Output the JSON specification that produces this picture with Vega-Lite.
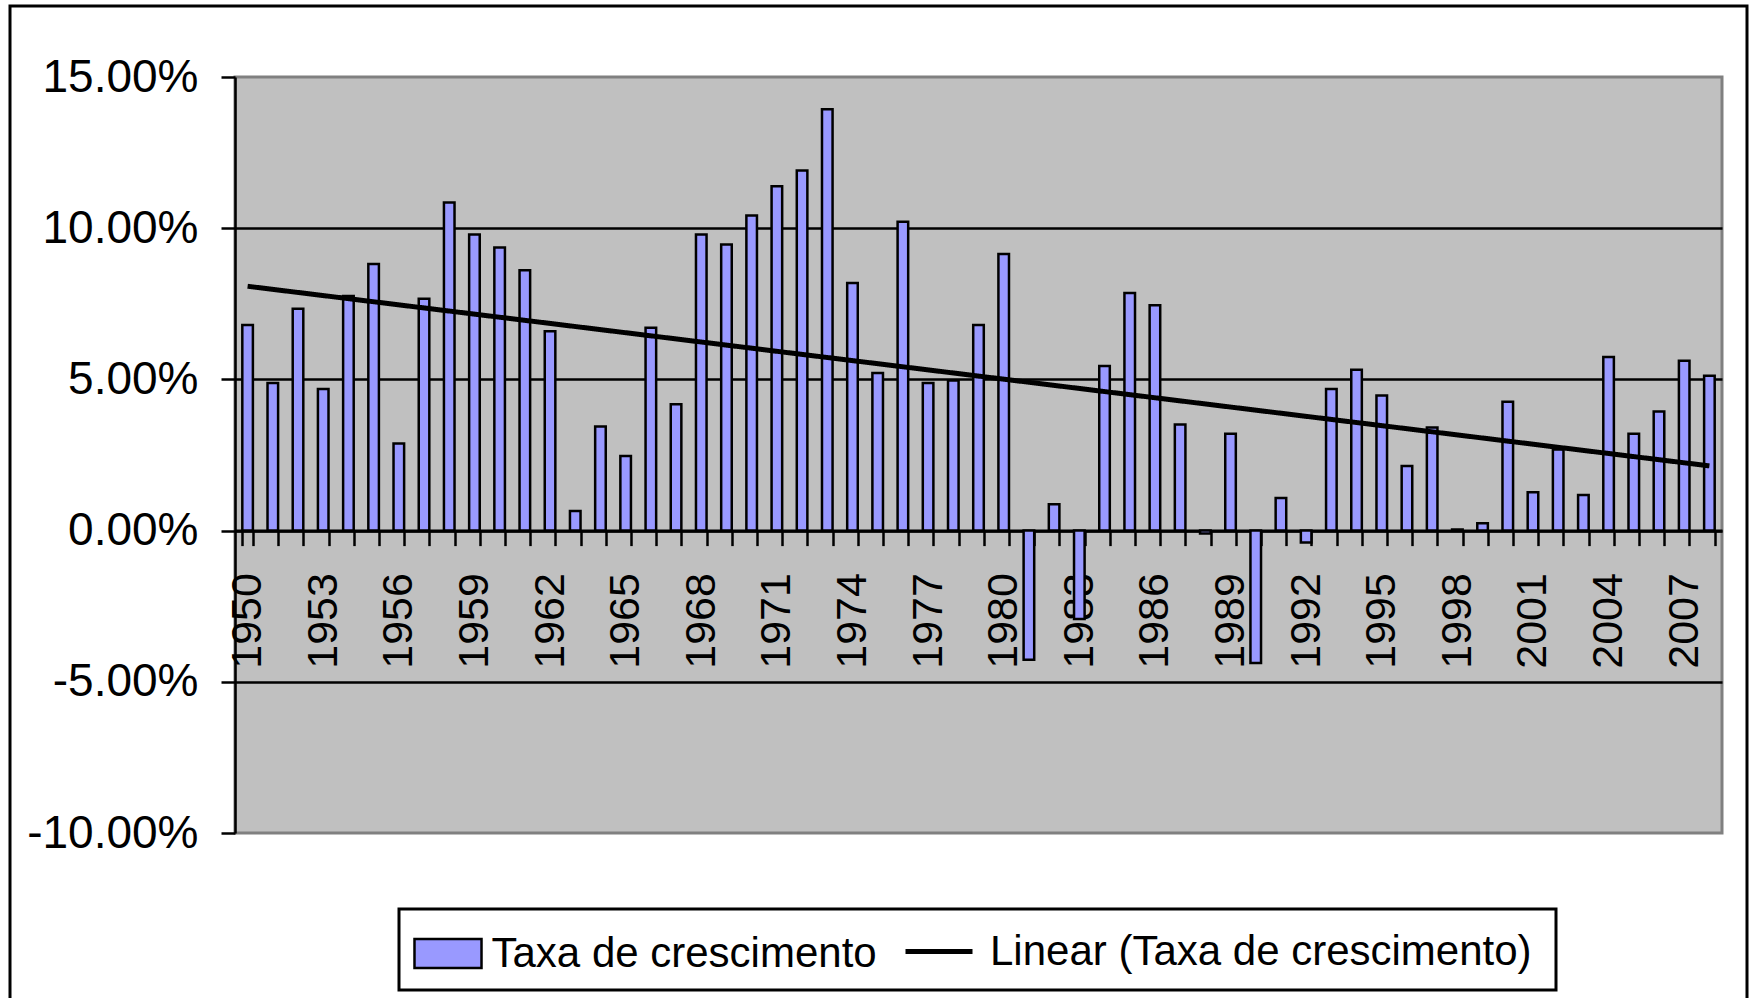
{
  "$schema": "https://vega.github.io/schema/vega-lite/v6.json",
  "width": 1487,
  "height": 756,
  "autosize": {"type": "none"},
  "padding": {"left": 235, "top": 77, "right": 30, "bottom": 165},
  "background": "white",
  "config": {
    "view": {"fill": "#C0C0C0", "stroke": "#808080", "strokeWidth": 3},
    "legend": {"strokeWidth": 3}
  },
  "datasets": {
    "growth": [
      {"year": 1950, "rate": 0.0680}, {"year": 1951, "rate": 0.0488}, {"year": 1952, "rate": 0.0734},
      {"year": 1953, "rate": 0.0468}, {"year": 1954, "rate": 0.0776}, {"year": 1955, "rate": 0.0882},
      {"year": 1956, "rate": 0.0288}, {"year": 1957, "rate": 0.0767}, {"year": 1958, "rate": 0.1085},
      {"year": 1959, "rate": 0.0979}, {"year": 1960, "rate": 0.0936}, {"year": 1961, "rate": 0.0861},
      {"year": 1962, "rate": 0.0659}, {"year": 1963, "rate": 0.0065}, {"year": 1964, "rate": 0.0344},
      {"year": 1965, "rate": 0.0247}, {"year": 1966, "rate": 0.0671}, {"year": 1967, "rate": 0.0418},
      {"year": 1968, "rate": 0.0979}, {"year": 1969, "rate": 0.0946}, {"year": 1970, "rate": 0.1042},
      {"year": 1971, "rate": 0.1139}, {"year": 1972, "rate": 0.1191}, {"year": 1973, "rate": 0.1393},
      {"year": 1974, "rate": 0.0819}, {"year": 1975, "rate": 0.0521}, {"year": 1976, "rate": 0.1021},
      {"year": 1977, "rate": 0.0488}, {"year": 1978, "rate": 0.0496}, {"year": 1979, "rate": 0.0680},
      {"year": 1980, "rate": 0.0915}, {"year": 1981, "rate": -0.0427}, {"year": 1982, "rate": 0.0087},
      {"year": 1983, "rate": -0.0292}, {"year": 1984, "rate": 0.0544}, {"year": 1985, "rate": 0.0786},
      {"year": 1986, "rate": 0.0745}, {"year": 1987, "rate": 0.0351}, {"year": 1988, "rate": -0.0010},
      {"year": 1989, "rate": 0.0320}, {"year": 1990, "rate": -0.0438}, {"year": 1991, "rate": 0.0108},
      {"year": 1992, "rate": -0.0039}, {"year": 1993, "rate": 0.0468}, {"year": 1994, "rate": 0.0532},
      {"year": 1995, "rate": 0.0447}, {"year": 1996, "rate": 0.0214}, {"year": 1997, "rate": 0.0341},
      {"year": 1998, "rate": 0.0004}, {"year": 1999, "rate": 0.0024}, {"year": 2000, "rate": 0.0426},
      {"year": 2001, "rate": 0.0127}, {"year": 2002, "rate": 0.0268}, {"year": 2003, "rate": 0.0118},
      {"year": 2004, "rate": 0.0574}, {"year": 2005, "rate": 0.0320}, {"year": 2006, "rate": 0.0394},
      {"year": 2007, "rate": 0.0562}, {"year": 2008, "rate": 0.0512}
    ],
    "trend": [
      {"year": 1950, "trend": 0.0808},
      {"year": 2008, "trend": 0.0214}
    ]
  },
  "resolve": {
    "scale": {"color": "independent", "strokeDash": "independent"},
    "legend": {"color": "independent", "strokeDash": "independent"}
  },
  "layer": [
    {
      "data": {"name": "growth"},
      "mark": {"type": "bar", "stroke": "black", "strokeWidth": 2.5},
      "encoding": {
        "x": {
          "field": "year",
          "type": "ordinal",
          "scale": {"paddingInner": 0.58, "paddingOuter": 0.29},
          "axis": {
            "orient": "bottom",
            "offset": -302.4,
            "tickBand": "extent",
            "labelExpr": "(datum.value - 1950) % 3 === 0 ? datum.label : ''",
            "labelAngle": 270,
            "labelFont": "Liberation Sans",
            "labelFontSize": 43,
            "labelColor": "black",
            "labelPadding": 27,
            "labelOverlap": false,
            "tickSize": 15,
            "tickWidth": 2.5,
            "tickColor": "black",
            "domainColor": "black",
            "domainWidth": 3,
            "grid": false,
            "title": null
          }
        },
        "y": {
          "field": "rate",
          "type": "quantitative",
          "scale": {"domain": [-0.1, 0.15], "nice": false},
          "axis": {
            "values": [-0.1, -0.05, 0, 0.05, 0.1, 0.15],
            "labelExpr": "(datum.value < 0 ? '-' : '') + format(abs(datum.value), '.2%')",
            "labelFont": "Liberation Sans",
            "labelFontSize": 46,
            "labelColor": "black",
            "labelPadding": 23,
            "tickSize": 14,
            "tickWidth": 2.5,
            "tickColor": "black",
            "domainColor": "black",
            "domainWidth": 2.5,
            "grid": true,
            "gridColor": {"condition": {"test": "datum.value > 0.14 || datum.value < -0.09", "value": "transparent"}, "value": "black"},
            "gridWidth": 2.5,
            "title": null
          }
        },
        "color": {
          "datum": "Taxa de crescimento",
          "scale": {"domain": ["Taxa de crescimento"], "range": ["#9999FF"]},
          "legend": {
            "orient": "none",
            "legendX": 177,
            "legendY": 845,
            "direction": "horizontal",
            "title": null,
            "labelFont": "Liberation Sans",
            "labelFontSize": 42,
            "labelColor": "black",
            "labelLimit": 0,
            "labelOffset": 12,
            "symbolType": "M-1.117,-0.483H1.117V0.483H-1.117Z",
            "symbolSize": 3600,
            "symbolOffset": 4.5,
            "symbolStrokeColor": "black",
            "symbolStrokeWidth": 2.5,
            "symbolOpacity": 1,
            "padding": 0,
            "strokeColor": "transparent",
            "fillColor": "transparent"
          }
        },
        "strokeDash": {
          "datum": "g1",
          "scale": {"domain": ["g1", "g2"], "range": [[1, 0], [1, 0]]},
          "legend": {
            "orient": "none",
            "legendX": 164,
            "legendY": 832,
            "direction": "horizontal",
            "title": null,
            "labelExpr": "''",
            "labelFontSize": 1,
            "labelOffset": 0,
            "labelColor": "transparent",
            "symbolSize": 16,
            "symbolOpacity": 0,
            "symbolStrokeColor": "transparent",
            "columnPadding": 1069,
            "padding": 38,
            "strokeColor": "black",
            "fillColor": "transparent"
          }
        }
      }
    },
    {
      "data": {"name": "trend"},
      "mark": {"type": "line", "strokeWidth": 5},
      "encoding": {
        "x": {"field": "year", "type": "ordinal"},
        "y": {"field": "trend", "type": "quantitative"},
        "color": {
          "datum": "Linear (Taxa de crescimento)",
          "scale": {"domain": ["Linear (Taxa de crescimento)"], "range": ["black"]},
          "legend": {
            "orient": "none",
            "legendX": 668,
            "legendY": 838.5,
            "direction": "horizontal",
            "title": null,
            "labelFont": "Liberation Sans",
            "labelFontSize": 42,
            "labelColor": "black",
            "labelLimit": 0,
            "labelOffset": 15,
            "symbolType": "stroke",
            "symbolSize": 4489,
            "symbolStrokeWidth": 5,
            "symbolStrokeColor": "black",
            "symbolOpacity": 1,
            "padding": 0,
            "strokeColor": "transparent",
            "fillColor": "transparent"
          }
        },
        "strokeDash": {
          "datum": "f1",
          "scale": {"domain": ["f1", "f2"], "range": [[1, 0], [1, 0]]},
          "legend": {
            "orient": "none",
            "legendX": -225,
            "legendY": -71,
            "direction": "horizontal",
            "title": null,
            "labelExpr": "''",
            "labelFontSize": 1,
            "labelOffset": 0,
            "labelColor": "transparent",
            "symbolSize": 16,
            "symbolOpacity": 0,
            "symbolStrokeColor": "transparent",
            "columnPadding": 725,
            "padding": 500,
            "strokeColor": "black",
            "fillColor": "transparent"
          }
        }
      }
    }
  ]
}
